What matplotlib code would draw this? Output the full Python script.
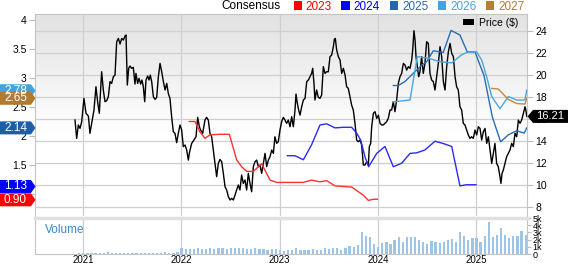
import matplotlib
matplotlib.use('Agg')
import matplotlib.pyplot as plt
import matplotlib.transforms as mtransforms
from matplotlib.colors import LinearSegmentedColormap
from matplotlib.patches import Polygon, Patch
import numpy as np

plt.rcParams['font.family'] = ['Liberation Sans', 'DejaVu Sans']

### Data

# price, fractional years
price_dates = [
    2020.919, 2020.936, 2020.953, 2020.970, 2020.987, 2021.010, 2021.031, 2021.055,
    2021.071, 2021.095, 2021.112, 2021.132, 2021.149, 2021.166, 2021.190, 2021.207,
    2021.224, 2021.241, 2021.258, 2021.275, 2021.292, 2021.309, 2021.326, 2021.343,
    2021.360, 2021.377, 2021.394, 2021.411, 2021.428, 2021.438, 2021.451, 2021.465,
    2021.478, 2021.495, 2021.512, 2021.529, 2021.539, 2021.556, 2021.570, 2021.587,
    2021.600, 2021.614, 2021.628, 2021.641, 2021.658, 2021.672, 2021.685, 2021.699,
    2021.716, 2021.733, 2021.750, 2021.767, 2021.784, 2021.801, 2021.818, 2021.835,
    2021.852, 2021.868, 2021.885, 2021.902, 2021.919, 2021.936, 2021.953, 2021.970,
    2021.987, 2022.004, 2022.021, 2022.038, 2022.055, 2022.072, 2022.082,
    2022.089, 2022.106, 2022.129, 2022.150, 2022.167, 2022.184, 2022.197, 2022.218,
    2022.241, 2022.258, 2022.275, 2022.292, 2022.309, 2022.326, 2022.343, 2022.360,
    2022.377, 2022.394, 2022.411, 2022.428, 2022.445, 2022.462, 2022.479, 2022.496,
    2022.513, 2022.530, 2022.547, 2022.563, 2022.580, 2022.597, 2022.614, 2022.631,
    2022.648, 2022.665, 2022.682, 2022.699, 2022.716, 2022.733, 2022.750, 2022.767,
    2022.784, 2022.801, 2022.818, 2022.835, 2022.852, 2022.869, 2022.886, 2022.903,
    2022.920, 2022.937, 2022.953, 2022.970, 2022.987, 2023.004, 2023.021, 2023.038,
    2023.055, 2023.072, 2023.089, 2023.106, 2023.123, 2023.140, 2023.157, 2023.167,
    2023.181, 2023.194, 2023.208,
    2023.225, 2023.242, 2023.259, 2023.276, 2023.293, 2023.309, 2023.326, 2023.337,
    2023.350, 2023.360, 2023.377, 2023.394, 2023.411, 2023.428, 2023.445, 2023.462,
    2023.479, 2023.496, 2023.513, 2023.530, 2023.547, 2023.557, 2023.567, 2023.581,
    2023.598, 2023.615, 2023.632, 2023.649, 2023.666, 2023.682, 2023.699, 2023.716,
    2023.733, 2023.750, 2023.767, 2023.784, 2023.801, 2023.818, 2023.835, 2023.852,
    2023.869, 2023.886, 2023.903, 2023.913, 2023.927, 2023.937, 2023.954, 2023.971,
    2023.988, 2024.005, 2024.022, 2024.039, 2024.055, 2024.072, 2024.089, 2024.106,
    2024.123, 2024.140, 2024.157, 2024.174, 2024.191, 2024.208, 2024.225, 2024.242,
    2024.259, 2024.276, 2024.293, 2024.310, 2024.327,
    2024.344, 2024.354, 2024.367, 2024.378, 2024.388, 2024.401, 2024.415, 2024.428,
    2024.445, 2024.462, 2024.479, 2024.496, 2024.513, 2024.530, 2024.547, 2024.564,
    2024.581, 2024.598, 2024.615, 2024.632, 2024.649, 2024.666, 2024.683, 2024.700,
    2024.717, 2024.734, 2024.751, 2024.768, 2024.785, 2024.801, 2024.818, 2024.835,
    2024.852, 2024.869, 2024.886, 2024.903, 2024.920, 2024.937, 2024.954, 2024.971,
    2024.988, 2025.005, 2025.022, 2025.039, 2025.056, 2025.073, 2025.090, 2025.107,
    2025.124, 2025.141, 2025.158, 2025.174, 2025.191, 2025.208, 2025.225, 2025.242,
    2025.252, 2025.263, 2025.276, 2025.293, 2025.310, 2025.327, 2025.344, 2025.361,
    2025.378, 2025.395, 2025.412, 2025.429, 2025.446, 2025.463, 2025.480, 2025.497,
    2025.505, 2025.515,
]
price_values = [
    15.88, 14.21, 15.43, 15.12, 15.73, 17.85, 16.49, 16.24,
    14.67, 15.88, 16.79, 18.91, 17.55, 16.49, 20.27, 18.61,
    17.55, 17.64, 18.00, 19.37, 19.21, 19.82, 19.97, 23.00,
    23.30, 22.79, 23.30, 23.15, 23.52, 23.61, 19.06, 20.58,
    20.79, 20.58, 20.67, 19.15, 20.12, 19.21, 19.67, 19.15,
    19.52, 18.91, 17.55, 19.52, 19.88, 19.52, 19.97, 19.37,
    18.00, 17.76, 17.94, 19.82, 21.03, 20.27, 19.37, 18.61,
    19.21, 18.30, 17.85, 16.18, 14.82, 14.67, 13.82, 14.67,
    15.43, 14.97, 13.46, 13.61, 13.15, 12.24, 12.85,
    13.15, 13.76, 14.06, 14.36, 16.12, 15.27, 14.97, 14.67,
    15.88, 16.12, 15.88, 14.67, 14.36, 13.15, 11.94, 10.73,
    11.94, 12.30, 12.09, 11.03, 9.82, 9.52, 8.91, 8.61,
    8.76, 8.61, 9.06, 9.52, 9.97, 9.52, 10.88, 10.12,
    10.43, 9.52, 11.03, 10.12, 9.36, 11.64, 12.09, 12.24,
    11.64, 11.79, 11.03, 11.94, 12.85, 11.64, 12.24, 12.55,
    13.15, 12.85, 14.36, 13.76, 13.91, 14.97, 15.73, 16.12,
    15.88, 15.58, 15.88, 15.27, 16.18, 15.27, 16.79, 18.24,
    17.39, 16.79, 16.33,
    17.09, 17.70, 17.85, 19.37, 19.52, 19.82, 20.12, 20.58,
    19.21, 17.70, 18.61, 17.94, 17.85, 18.15, 20.73, 20.12,
    20.27, 20.27, 21.64, 21.79, 22.55, 23.21, 23.30, 22.24,
    21.64, 21.33, 20.12, 20.58, 19.97, 18.91, 18.76, 18.00,
    17.24, 16.79, 15.58, 14.06, 13.91, 14.06, 13.61, 11.79,
    11.79, 12.09, 11.79, 13.46, 13.76, 15.27, 16.49, 16.64,
    16.03, 16.33, 15.58, 15.43, 15.43, 15.58, 15.73, 16.03,
    16.79, 16.79, 17.55, 16.64, 17.70, 19.21, 19.82, 20.12,
    21.03, 20.88, 20.42, 20.73, 20.58,
    21.33, 22.24, 24.00, 23.15, 21.64, 20.73, 19.82, 20.27,
    21.64, 20.12, 21.03, 23.00, 22.85, 20.12, 19.52, 19.37,
    18.61, 19.82, 21.03, 22.55, 21.64, 19.37, 18.61, 20.73,
    22.09, 22.85, 21.94, 21.64, 19.82, 18.91, 18.61, 17.09,
    16.79, 15.58, 15.43, 14.97, 14.52, 14.21, 14.36, 14.21,
    14.97, 14.52, 15.27, 15.12, 14.06, 14.82, 15.12, 13.76,
    14.36, 13.15, 11.94, 12.85, 13.76, 11.94, 11.64, 10.73,
    10.12, 11.03, 11.33, 11.94, 12.55, 12.85, 13.15, 13.76,
    13.46, 14.67, 14.36, 15.88, 15.58, 15.88, 16.49, 17.09,
    16.79, 16.21,
]

# consensus EPS estimates by fiscal year
est_2023_dates = [2022.082, 2022.140, 2022.190, 2022.241, 2022.292, 2022.394, 2022.489,
                  2022.563, 2022.614, 2022.665, 2022.733, 2022.818, 2022.903, 2022.970,
                  2023.072, 2023.242, 2023.326, 2023.411, 2023.479, 2023.564, 2023.649,
                  2023.733, 2023.801, 2023.852, 2023.903, 2023.954, 2023.995]
est_2023 = [2.25, 2.25, 2.07, 1.96, 2.02, 2.03, 2.03, 1.59, 1.47, 1.39, 1.39, 1.52, 1.24,
            1.20, 1.20, 1.20, 1.24, 1.21, 1.23, 1.14, 1.13, 1.12, 1.04, 0.98, 0.89, 0.91, 0.91]

est_2024_dates = [2023.079, 2023.157, 2023.242, 2023.326, 2023.411, 2023.479, 2023.564,
                  2023.649, 2023.733, 2023.784, 2023.825, 2023.869, 2023.906, 2023.988,
                  2024.072, 2024.157, 2024.242, 2024.327, 2024.395, 2024.479, 2024.581,
                  2024.666, 2024.751, 2024.835, 2024.903, 2024.998]
est_2024 = [1.66, 1.66, 1.59, 1.85, 2.19, 2.21, 2.14, 2.15, 2.15, 2.05, 1.93, 1.64, 1.47,
            1.70, 1.82, 1.47, 1.53, 1.70, 1.71, 1.76, 1.91, 1.87, 1.82, 1.14, 1.16, 1.16]

est_2025_dates = [2024.157, 2024.208, 2024.276, 2024.360, 2024.446, 2024.496, 2024.564,
                  2024.665, 2024.744, 2024.835, 2024.909, 2024.988, 2025.039, 2025.079,
                  2025.164, 2025.215, 2025.249, 2025.327, 2025.412, 2025.489, 2025.514]
est_2025 = [2.87, 2.87, 2.94, 3.08, 3.22, 3.28, 3.47, 3.44, 3.82, 3.74, 3.45, 3.45, 3.22,
            3.05, 2.33, 2.07, 1.90, 2.02, 2.09, 2.05, 2.14]

est_2026_dates = [2024.157, 2024.327, 2024.401, 2024.513, 2024.632, 2024.751, 2024.852,
                  2024.920, 2025.005, 2025.056, 2025.107, 2025.158, 2025.242, 2025.327,
                  2025.412, 2025.496, 2025.514]
est_2026 = [2.59, 2.62, 3.37, 3.34, 3.28, 3.26, 3.40, 3.45, 3.45, 3.31, 3.02, 2.68, 2.47,
            2.68, 2.62, 2.62, 2.79]

est_2027_dates = [2025.158, 2025.225, 2025.327, 2025.412, 2025.496, 2025.514]
est_2027 = [2.82, 2.81, 2.63, 2.56, 2.55, 2.65]

# volume (thousands), twice a month from Dec 2020
volume_start = 2020.92
volume = [
    0.05, 0.10, 0.15, 0.10, 0.20, 0.15, 0.10, 0.20, 0.25, 0.15, 0.10, 0.20, 0.15,
    0.10, 0.20, 0.15, 0.10, 0.15, 0.20, 0.10, 0.15, 0.20, 0.25, 0.15, 0.20, 0.30,
    0.90, 0.70, 0.75, 0.65, 0.80, 0.70, 0.75, 0.80, 0.70, 0.85, 0.80, 0.75,
    0.90, 0.80, 0.85, 0.90, 0.70, 0.75, 0.80, 0.65, 0.70, 0.60, 0.65, 0.70,
    0.50, 0.40, 0.60, 0.50, 0.90, 0.60, 0.50, 0.60, 0.70, 0.50, 0.60, 0.80,
    0.70, 0.90, 0.80, 0.60, 0.90, 1.10, 1.00, 1.20, 3.00, 2.50, 2.40, 1.40,
    1.00, 1.50, 1.70, 1.40, 2.00, 2.40, 1.60, 2.40, 2.40, 2.30, 2.00, 1.70,
    1.40, 1.80, 1.60, 1.50, 1.70, 1.90, 2.10, 1.60, 3.10, 2.50, 2.00, 2.20,
    2.20, 1.60, 2.50, 4.50, 2.40, 2.70, 3.60, 2.60, 2.20, 2.50, 2.50, 3.20, 2.60,
]
volume_dates = volume_start + np.arange(len(volume)) / 24

years = [2021, 2022, 2023, 2024, 2025]
series_names = ['2023', '2024', '2025', '2026', '2027']
series_colors = ['#ff0000', '#0000ff', '#2566b4', '#44a3dc', '#b37e36']
line_colors = ['#ff3030', '#2a2aff', '#2a6cb8', '#4aa6dd', '#c08a44']

tag_values = [2.78, 2.65, 2.14, 1.13, 0.90]
tag_colors = ['#44a3dc', '#b07b2e', '#1d5ea8', '#0000ff', '#ff0000']
last_price = 16.21

grid_color = '#cfcfcf'
spine_color = '#c4c4c4'

### Plot

fig = plt.figure(figsize=(5.68, 2.64), dpi=100)
ax = fig.add_axes([35 / 568, 1 - 216 / 264, 492 / 568, 202 / 264])
vax = fig.add_axes([35 / 568, 1 - 254 / 264, 492 / 568, 36 / 264])
ax2 = ax.twinx()

xlim = (2020.512, 2025.517)

# background gradient
grad = np.clip(np.linspace(0, 1, 256) * 1.7, 0, 1).reshape(-1, 1)
cmap = LinearSegmentedColormap.from_list('bg', ['#e2e2e2', '#ffffff'])
ax.imshow(grad, cmap=cmap, extent=(0, 1, 0, 1), transform=ax.transAxes,
          aspect='auto', zorder=0, vmin=0, vmax=1)

# price
ax.plot(price_dates, price_values, color='black', lw=1.0, zorder=3)
ax.set_xlim(*xlim)
ax.set_ylim(7.155, 25.52)
ax.set_yticks(range(8, 25, 2))
ax.yaxis.tick_right()
ax.set_xticks(years)
ax.set_xticklabels([])
ax.tick_params(axis='x', length=0)
ax.tick_params(axis='y', labelsize=7.5, length=4, color='#bbbbbb', pad=2)
ax.grid(True, color=grid_color, lw=0.9)
ax.set_axisbelow(True)
for side in ['left', 'right', 'top']:
    ax.spines[side].set_color(spine_color)
ax.spines['bottom'].set_visible(False)

# estimates
est_dates = [est_2023_dates, est_2024_dates, est_2025_dates, est_2026_dates, est_2027_dates]
est_values = [est_2023, est_2024, est_2025, est_2026, est_2027]
for d, v, c in zip(est_dates, est_values, line_colors):
    ax2.plot(d, v, color=c, lw=1.0)
ax2.set_xlim(*xlim)
ax2.set_ylim(0.621, 4.103)
ax2.yaxis.tick_left()
ax2.set_yticks([1, 1.5, 2, 2.5, 3, 3.5, 4])
ax2.set_yticklabels(['1', '1.5', '2', '2.5', '3', '3.5', '4'])
ax2.tick_params(axis='y', labelsize=7.5, length=4, color='#bbbbbb', pad=2)
for side in ax2.spines:
    ax2.spines[side].set_visible(False)

ax2.legend([Patch(facecolor='black')], ['Price ($)'], loc='upper right',
           bbox_to_anchor=(1 - 9 / 492, 1 - 4 / 202), frameon=False, fontsize=7.5,
           handlelength=1.1, handleheight=0.5, handletextpad=0.4,
           borderpad=0, borderaxespad=0)

# volume
vax.bar(volume_dates, volume, width=0.55 / 24, color='#9ec4e6', edgecolor='none')
vax.set_xlim(*xlim)
vax.set_ylim(0, 5)
vax.set_yticks(range(6))
vax.set_yticklabels(['0', '1k', '2k', '3k', '4k', '5k'])
vax.yaxis.tick_right()
vax.tick_params(axis='y', labelsize=6.5, length=3, color='#bbbbbb', pad=1)
vax.set_xticks(years)
vax.set_xticklabels([str(y) for y in years])
vax.tick_params(axis='x', labelsize=7, length=0, pad=0.8)
vax.grid(True, axis='x', color=grid_color, lw=0.9)
vax.set_axisbelow(True)
for side in ['left', 'right', 'bottom']:
    vax.spines[side].set_color(spine_color)
vax.spines['top'].set_color('#e0e0e0')
vax.spines['top'].set_linewidth(2.5)
vax.text(10 / 492, 0.66, 'Volume', transform=vax.transAxes, color='#3b88c9',
         fontsize=8.5, va='center')

# header legend
fig.text(281 / 568, 1 - 6 / 264, 'Consensus', ha='right', va='center', fontsize=8.5)
fig.legend([Patch(facecolor=c) for c in series_colors], series_names,
           labelcolor=series_colors, ncol=5, loc='upper right',
           bbox_to_anchor=(525 / 568, 1.0), frameon=False, fontsize=8.5,
           handlelength=0.7, handleheight=0.7, handletextpad=0.35,
           columnspacing=0.8, borderpad=0.05, borderaxespad=0)

# value tags
left_anchor = mtransforms.blended_transform_factory(fig.transFigure, ax2.transData)
for val, col in zip(tag_values, tag_colors):
    tr = fig.dpi_scale_trans + mtransforms.ScaledTranslation(0, val, left_anchor)
    verts = np.array([(0, -6.5), (31, -6.5), (35.5, 0), (31, 6.5), (0, 6.5)]) / 100
    fig.add_artist(Polygon(verts, closed=True, transform=tr, facecolor=col,
                           edgecolor='none', zorder=5))
    fig.text(15.5 / 100, 0, f'{val:.2f}', transform=tr, ha='center', va='center',
             color='white', fontsize=8.5, zorder=6)

right_anchor = mtransforms.blended_transform_factory(ax.transAxes, ax.transData)
tr = fig.dpi_scale_trans + mtransforms.ScaledTranslation(1.0, last_price, right_anchor)
verts = np.array([(0.5, 0), (6, -6.5), (41, -6.5), (41, 6.5), (6, 6.5)]) / 100
fig.add_artist(Polygon(verts, closed=True, transform=tr, facecolor='black',
                       edgecolor='none', zorder=5))
fig.text(23.5 / 100, 0, f'{last_price:.2f}', transform=tr, ha='center', va='center',
         color='white', fontsize=8, zorder=6)

fig.savefig('out.png', dpi=100)
